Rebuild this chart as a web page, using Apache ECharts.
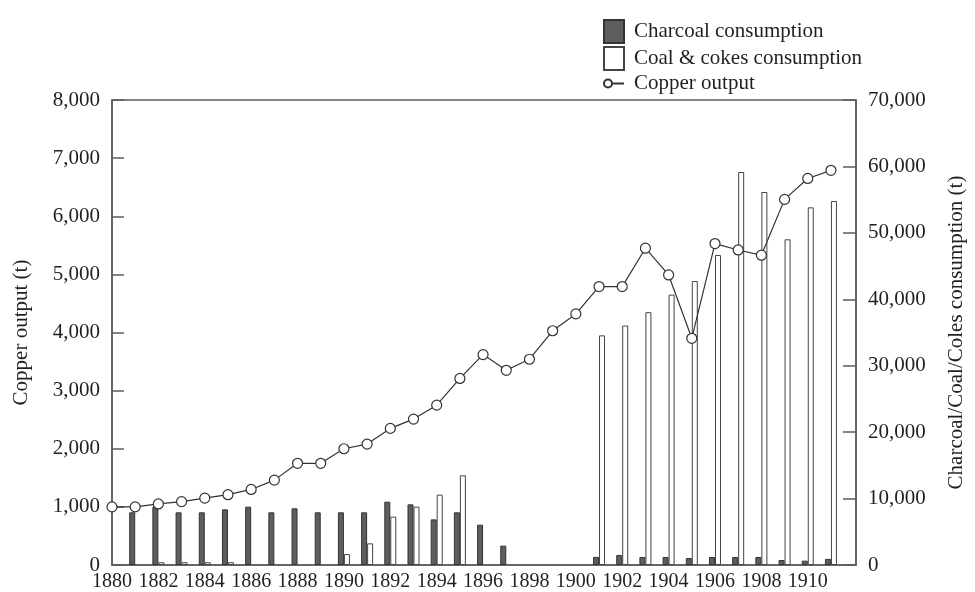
<!DOCTYPE html>
<html>
<head>
<meta charset="utf-8">
<script src="https://cdn.jsdelivr.net/npm/echarts@6/dist/echarts.min.js"></script>
<style>
html,body{margin:0;padding:0;background:#fff;overflow:hidden;}
#chart{width:975px;height:592px;}
</style>
</head>
<body>
<div id="chart"></div>
<script>
// Years
var copperYears = [1880,1881,1882,1883,1884,1885,1886,1887,1888,1889,1890,1891,1892,1893,1894,1895,1896,1897,1898,1899,1900,1901,1902,1903,1904,1905,1906,1907,1908,1909,1910,1911];
// Copper output (t)
var copperOutput = [1000,1000,1050,1090,1150,1210,1300,1460,1750,1750,2000,2080,2350,2510,2750,3210,3620,3350,3540,4030,4320,4790,4790,5450,4990,3900,5530,5420,5330,6290,6650,6790];

// Charcoal consumption (t)
var charcoalYears = [1881,1882,1883,1884,1885,1886,1887,1888,1889,1890,1891,1892,1893,1894,1895,1896,1897,1901,1902,1903,1904,1905,1906,1907,1908,1909,1910,1911];
var charcoal = [7930,8780,7930,7930,8380,8780,7930,8530,7930,7930,7930,9530,9130,6870,7930,6070,2910,1220,1500,1200,1200,1050,1200,1200,1200,750,650,920];

// Coal & cokes consumption (t)
var coalYears = [1882,1883,1884,1885,1890,1891,1892,1893,1894,1895,1901,1902,1903,1904,1905,1906,1907,1908,1909,1910,1911];
var coal = [420,420,420,420,1650,3260,7280,8780,10590,13500,34570,36050,38060,40700,42750,46670,59160,56150,49030,53840,54800];

var leftTicks = {min:0, max:8000, interval:1000};
var rightTicks = {min:0, max:70000, interval:10000};

function pairs(xs, ys){ return xs.map(function(x,i){ return [x, ys[i]]; }); }
function comma(v){ return String(v).replace(/\B(?=(\d{3})+(?!\d))/g, ','); }

var FONT = '"Liberation Serif", "DejaVu Serif", serif';
var TXT = '#231f20';
var LINE = '#5c5c5c';

var chart = echarts.init(document.getElementById('chart'), null, {renderer:'canvas'});
chart.setOption({
  animation: false,
  backgroundColor: '#fff',
  textStyle: {fontFamily: FONT, color: TXT},
  grid: {left:112, right:112, top:100, bottom:27, show:true, borderColor:LINE, borderWidth:1.5, backgroundColor:'transparent'},
  legend: {
    orient: 'vertical', left: 598, top: 14,
    itemWidth: 20, itemHeight: 23, itemGap: 2,
    textStyle: {fontFamily: FONT, fontSize: 21, color: TXT, padding:[0,0,0,5]},
    data: [
      {name:'Charcoal consumption', icon:'rect'},
      {name:'Coal & cokes consumption', icon:'rect'},
      {name:'Copper output', icon:'path://M0,4 A4,4 0 1,1 8,4 A4,4 0 1,1 0,4 Z M8,4 L20,4'}
    ]
  },
  xAxis: {
    type: 'value', min: 1880, max: 1912.08, interval: 2,
    axisLine: {show:true, lineStyle:{color:LINE, width:1.5}},
    axisTick: {show:false},
    splitLine: {show:false},
    axisLabel: {
      fontFamily: FONT, fontSize: 20, color: TXT, margin: 7,
      showMaxLabel: false,
      formatter: function(v){ return (v % 2 === 0 && v <= 1910) ? String(v) : ''; }
    }
  },
  yAxis: [
    {
      type: 'value', min: leftTicks.min, max: leftTicks.max, interval: leftTicks.interval,
      position: 'left',
      name: 'Copper output (t)', nameLocation: 'middle', nameGap: 80, nameRotate: 90,
      nameTextStyle: {fontFamily: FONT, fontSize: 21, color: TXT},
      axisLine: {show:true, lineStyle:{color:LINE, width:1.5}},
      axisTick: {show:true, inside:true, length:12, lineStyle:{color:LINE, width:1.5}},
      splitLine: {show:false},
      axisLabel: {fontFamily: FONT, fontSize: 21, color: TXT, margin: 12, formatter: comma}
    },
    {
      type: 'value', min: rightTicks.min, max: rightTicks.max, interval: rightTicks.interval,
      position: 'right',
      name: 'Charcoal/Coal/Coles consumption (t)', nameLocation: 'middle', nameGap: 90, nameRotate: 90,
      nameTextStyle: {fontFamily: FONT, fontSize: 21, color: TXT},
      axisLine: {show:true, lineStyle:{color:LINE, width:1.5}},
      axisTick: {show:true, inside:true, length:13, lineStyle:{color:LINE, width:1.5}},
      splitLine: {show:false},
      axisLabel: {fontFamily: FONT, fontSize: 21, color: TXT, margin: 12, formatter: comma}
    }
  ],
  series: [
    {
      name: 'Charcoal consumption', type: 'bar', yAxisIndex: 1,
      barWidth: 6, barGap: '0%',
      itemStyle: {color:'#5e5e5e', borderColor:'#333', borderWidth:1},
      data: pairs(charcoalYears, charcoal)
    },
    {
      name: 'Coal & cokes consumption', type: 'bar', yAxisIndex: 1,
      barWidth: 6, barGap: '0%',
      itemStyle: {color:'#ffffff', borderColor:'#444', borderWidth:1},
      data: pairs(coalYears, coal)
    },
    {
      name: 'Copper output', type: 'line', yAxisIndex: 0,
      symbol: 'circle', symbolSize: 10, showAllSymbol: true,
      lineStyle: {color:'#333', width:1.2},
      itemStyle: {color:'#fff', borderColor:'#333', borderWidth:1.2},
      z: 5,
      data: pairs(copperYears, copperOutput)
    }
  ]
});
</script>
</body>
</html>
